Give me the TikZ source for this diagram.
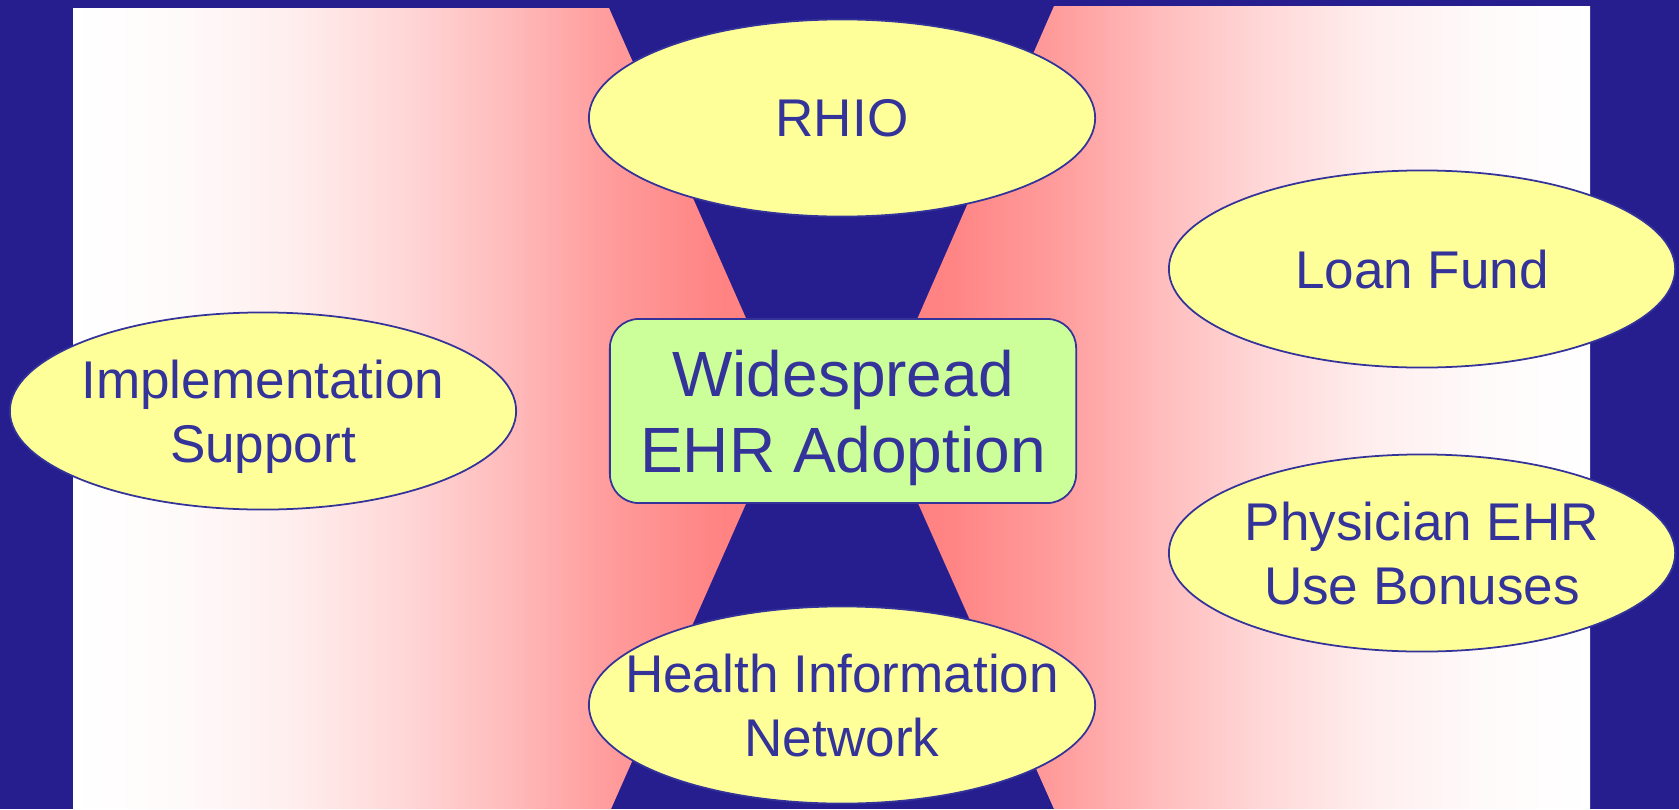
\documentclass[tikz,border=0pt]{standalone}
\usepackage{fontspec}
\setmainfont{Liberation Sans}
\usetikzlibrary{shapes.geometric}
\definecolor{navy}{HTML}{261E8F}
\definecolor{ink}{HTML}{333399}
\definecolor{paleyellow}{HTML}{FFFF99}
\definecolor{palegreen}{HTML}{CCFF99}
\definecolor{salmon}{HTML}{FF8080}
% eased white-to-salmon ramps (the middle 25bp..75bp span covers the panel)
\pgfdeclarehorizontalshading{rampright}{100bp}{%
  color(0bp)=(white); color(25bp)=(white);
  color(32.5bp)=(salmon!4!white); color(40bp)=(salmon!13!white);
  color(47.5bp)=(salmon!30!white); color(55bp)=(salmon!52!white);
  color(62.5bp)=(salmon!78!white); color(70bp)=(salmon!97!white);
  color(75bp)=(salmon); color(100bp)=(salmon)}
\pgfdeclarehorizontalshading{rampleft}{100bp}{%
  color(0bp)=(salmon); color(25bp)=(salmon);
  color(30bp)=(salmon!97!white); color(37.5bp)=(salmon!78!white);
  color(45bp)=(salmon!52!white); color(52.5bp)=(salmon!30!white);
  color(60bp)=(salmon!13!white); color(67.5bp)=(salmon!4!white);
  color(75bp)=(white); color(100bp)=(white)}
\begin{document}
\begin{tikzpicture}[x=0.01cm,y=-0.01cm,
  bubble/.style={ellipse, draw=ink, line width=0.5pt, fill=paleyellow,
    minimum width=5.06cm, minimum height=1.97cm, inner sep=0pt},
  bubbletext/.style={inner sep=0pt, text=ink, align=center, text depth=0pt,
    font=\fontsize{15.1pt}{18.2pt}\selectfont},
  goalbox/.style={rectangle, rounded corners=0.29cm, draw=ink, line width=0.5pt,
    fill=palegreen, minimum width=4.66cm, minimum height=1.84cm, inner sep=0pt,
    text=ink, align=center, text depth=0pt,
    font=\fontsize{18.2pt}{21.6pt}\selectfont}]
  % page background
  \useasboundingbox (0,0) rectangle (1679,809);
  \fill[navy] (0,0) rectangle (1679,809);
  % two shaded panels forming an hourglass gap in the middle
  \shade[shading=rampright]
    (73,8) -- (609,8) -- (787,411) -- (611,809) -- (73,809) -- cycle;
  \shade[shading=rampleft]
    (877,411) -- (1054,6) -- (1590,6) -- (1590,809) -- (1054,809) -- cycle;
  % contributing programmes
  \node[bubble] (rhio)  at (842,118)  {};
  \node[bubble] (hin)   at (842,705)  {};
  \node[bubble] (impl)  at (263,411)  {};
  \node[bubble] (loan)  at (1422,269) {};
  \node[bubble] (bonus) at (1422,553) {};
  \node[bubbletext] (rhio-t)  at (rhio.center)  {RHIO};
  \node[bubbletext] (hin-t)   at (hin.center)   {Health Information\\Network};
  \node[bubbletext] (impl-t)  at (impl.center)  {Implementation\\Support};
  \node[bubbletext] (loan-t)  at (loan.center)  {Loan Fund};
  \node[bubbletext] (bonus-t) at (bonus.center) {Physician EHR\\Use Bonuses};
  % central goal
  \node[goalbox] (goal) at (843,411) {Widespread\\EHR Adoption};
\end{tikzpicture}
\end{document}
